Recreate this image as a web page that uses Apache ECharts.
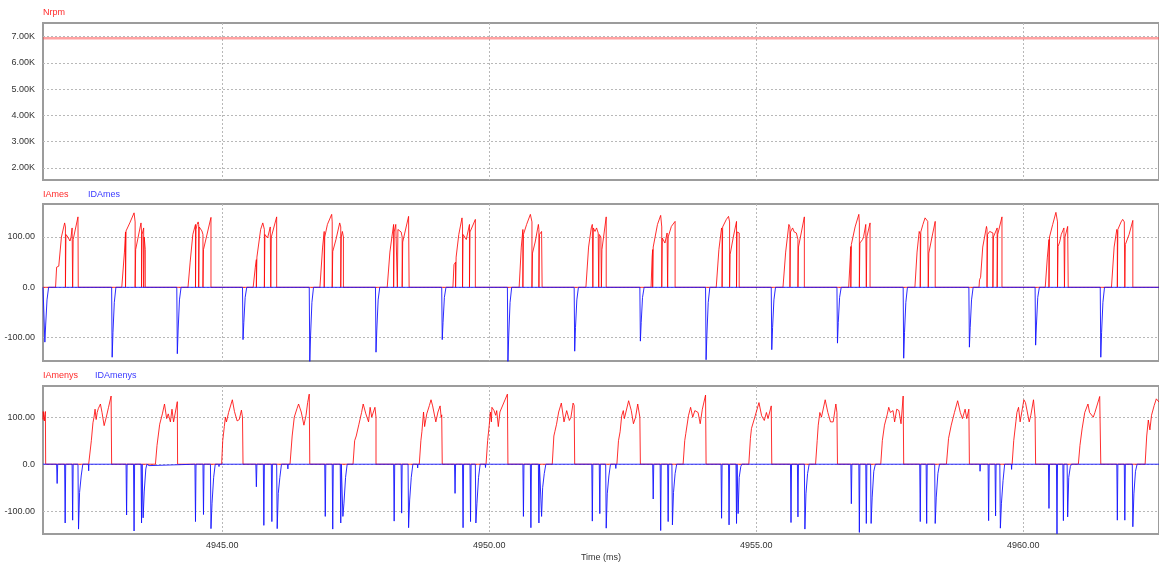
<!DOCTYPE html>
<html>
<head>
<meta charset="utf-8">
<script src="https://cdn.jsdelivr.net/npm/echarts@6/dist/echarts.min.js"></script>
<style>
  html, body { margin: 0; padding: 0; background: #fff; }
  #chart { width: 1159px; height: 563px; }
</style>
</head>
<body>
<div id="chart"></div>
<script>
// Time window (ms) and tick positions
const timeRange = [4941.645, 4962.54];
const timeTicks = [4945, 4950, 4955, 4960];
const rpmTicks = [2000, 3000, 4000, 5000, 6000, 7000];
const currentTicks = [-100, 0, 100];

// Speed trace [time ms, rpm]
const nrpmData = [[4941.645, 6935], [4952.0, 6935], [4962.54, 6935]];

// Measured phase A current [time ms, A]
const iamesData = [
  [4941.645,0],
  [4941.88,0],[4941.90,40],[4941.94,42],[4941.99,100],[4942.05,128],[4942.065,120],[4942.065,0],[4942.075,105],[4942.11,100],[4942.15,92],[4942.17,100],[4942.19,118],[4942.20,120],[4942.20,0],[4942.21,95],[4942.30,140],[4942.305,0],
  [4943.12,0],[4943.17,70],[4943.19,110],[4943.19,0],[4943.20,112],[4943.27,128],[4943.35,148],[4943.37,130],[4943.37,0],[4943.38,75],[4943.48,128],[4943.49,110],[4943.49,0],[4943.50,105],[4943.53,118],[4943.53,0],[4943.54,100],[4943.56,75],[4943.56,0],
  [4944.36,0],[4944.40,50],[4944.45,105],[4944.50,125],[4944.50,0],[4944.51,115],[4944.53,125],[4944.55,130],[4944.56,125],[4944.56,0],[4944.57,120],[4944.62,112],[4944.64,105],[4944.64,0],[4944.65,75],[4944.79,139],[4944.79,0],
  [4945.58,0],[4945.62,40],[4945.64,55],[4945.64,0],[4945.65,60],[4945.72,115],[4945.76,128],[4945.79,115],[4945.79,0],[4945.80,105],[4945.85,98],[4945.90,120],[4945.91,0],[4945.92,100],[4946.02,140],[4946.02,0],
  [4946.83,0],[4946.88,80],[4946.91,111],[4946.91,0],[4946.92,100],[4946.97,125],[4947.05,145],[4947.06,130],[4947.06,0],[4947.07,71],[4947.13,95],[4947.20,128],[4947.22,120],[4947.22,0],[4947.23,100],[4947.25,111],[4947.27,100],[4947.27,0],
  [4948.09,0],[4948.14,70],[4948.19,110],[4948.21,125],[4948.21,0],[4948.22,110],[4948.25,125],[4948.28,122],[4948.28,0],[4948.29,115],[4948.35,110],[4948.37,100],[4948.37,0],[4948.38,90],[4948.49,141],[4948.50,0],
  [4949.32,0],[4949.34,45],[4949.37,50],[4949.37,0],[4949.38,60],[4949.43,105],[4949.49,138],[4949.50,120],[4949.50,0],[4949.51,105],[4949.57,95],[4949.60,110],[4949.63,125],[4949.63,0],[4949.64,110],[4949.74,135],[4949.74,0],
  [4950.56,0],[4950.60,80],[4950.63,115],[4950.63,0],[4950.64,105],[4950.70,125],[4950.77,145],[4950.80,130],[4950.80,0],[4950.81,68],[4950.86,90],[4950.92,125],[4950.93,115],[4950.93,0],[4950.94,105],[4950.98,111],[4950.99,0],
  [4951.81,0],[4951.86,80],[4951.91,118],[4951.93,125],[4951.94,0],[4951.95,118],[4951.98,111],[4952.01,118],[4952.04,108],[4952.05,0],[4952.06,105],[4952.09,100],[4952.10,0],[4952.11,75],[4952.19,140],[4952.19,0],
  [4953.03,0],[4953.05,60],[4953.06,75],[4953.06,0],[4953.07,80],[4953.15,125],[4953.21,143],[4953.23,120],[4953.23,0],[4953.24,98],[4953.29,88],[4953.33,108],[4953.34,0],[4953.35,100],[4953.41,121],[4953.48,131],[4953.48,0],
  [4954.25,0],[4954.30,75],[4954.35,118],[4954.36,110],[4954.36,0],[4954.37,120],[4954.44,135],[4954.48,141],[4954.50,130],[4954.50,0],[4954.51,65],[4954.57,100],[4954.63,131],[4954.63,0],[4954.64,110],[4954.68,108],[4954.68,0],
  [4955.50,0],[4955.55,70],[4955.61,125],[4955.63,120],[4955.63,0],[4955.64,110],[4955.68,118],[4955.71,110],[4955.75,108],[4955.78,95],[4955.78,0],[4955.79,80],[4955.90,140],[4955.90,0],
  [4956.73,0],[4956.76,60],[4956.77,81],[4956.77,0],[4956.78,85],[4956.85,120],[4956.92,145],[4956.93,128],[4956.93,0],[4956.94,88],[4956.99,95],[4957.01,101],[4957.05,125],[4957.06,128],[4957.06,0],[4957.07,100],[4957.13,128],[4957.13,0],
  [4957.97,0],[4958.01,70],[4958.05,111],[4958.07,105],[4958.07,0],[4958.08,110],[4958.12,125],[4958.16,138],[4958.21,131],[4958.22,0],[4958.23,68],[4958.29,100],[4958.35,131],[4958.35,0],
  [4959.17,0],[4959.18,15],[4959.20,20],[4959.24,80],[4959.31,121],[4959.32,115],[4959.32,0],[4959.33,105],[4959.37,111],[4959.43,108],[4959.43,0],[4959.44,100],[4959.47,101],[4959.51,118],[4959.51,0],[4959.52,105],[4959.60,140],[4959.60,0],
  [4960.41,0],[4960.45,60],[4960.48,95],[4960.48,0],[4960.49,100],[4960.55,125],[4960.61,149],[4960.64,130],[4960.64,0],[4960.65,81],[4960.68,90],[4960.71,105],[4960.76,118],[4960.77,0],[4960.78,100],[4960.83,121],[4960.84,0],
  [4961.65,0],[4961.70,80],[4961.75,115],[4961.76,110],[4961.76,0],[4961.77,115],[4961.83,130],[4961.86,135],[4961.89,130],[4961.90,0],[4961.91,85],[4961.98,105],[4962.05,133],[4962.05,0],
  [4962.54,0]
];

// Measured phase A, D-branch current [time ms, A]
const idamesData = [
  [4941.645,0],
  [4941.67,0],[4941.68,-109],[4941.695,-75],[4941.72,-25],[4941.75,0],
  [4942.93,0],[4942.94,-139],[4942.955,-90],[4942.98,-30],[4943.01,0],
  [4944.15,0],[4944.16,-132],[4944.175,-85],[4944.20,-25],[4944.23,0],
  [4945.38,0],[4945.39,-104],[4945.405,-70],[4945.43,-20],[4945.46,0],
  [4946.63,0],[4946.64,-148],[4946.655,-95],[4946.68,-30],[4946.71,0],
  [4947.87,0],[4947.88,-129],[4947.895,-85],[4947.92,-25],[4947.95,0],
  [4949.11,0],[4949.12,-104],[4949.135,-70],[4949.16,-20],[4949.19,0],
  [4950.34,0],[4950.35,-148],[4950.365,-95],[4950.39,-30],[4950.42,0],
  [4951.59,0],[4951.60,-127],[4951.615,-80],[4951.64,-25],[4951.67,0],
  [4952.82,0],[4952.83,-107],[4952.845,-70],[4952.87,-20],[4952.90,0],
  [4954.05,0],[4954.06,-144],[4954.075,-95],[4954.10,-30],[4954.13,0],
  [4955.28,0],[4955.29,-124],[4955.305,-80],[4955.33,-25],[4955.36,0],
  [4956.51,0],[4956.52,-111],[4956.535,-70],[4956.56,-20],[4956.59,0],
  [4957.75,0],[4957.76,-141],[4957.775,-90],[4957.80,-30],[4957.83,0],
  [4958.98,0],[4958.99,-119],[4959.005,-80],[4959.03,-25],[4959.06,0],
  [4960.22,0],[4960.23,-115],[4960.245,-75],[4960.27,-20],[4960.30,0],
  [4961.44,0],[4961.45,-139],[4961.465,-90],[4961.49,-30],[4961.52,0],
  [4962.54,0]
];

// Simulated phase A current [time ms, A]
const iamenysData = [
  [4941.645,95],[4941.65,112],[4941.66,100],[4941.67,92],[4941.68,106],[4941.69,112],[4941.695,0],
  [4942.50,0],[4942.55,50],[4942.58,88],[4942.60,100],[4942.62,117],[4942.64,95],[4942.66,110],[4942.68,118],[4942.72,128],[4942.75,110],[4942.79,82],[4942.83,100],[4942.87,120],[4942.92,145],[4942.93,0],
  [4943.75,0],[4943.78,40],[4943.83,85],[4943.88,107],[4943.92,128],[4943.96,97],[4943.99,107],[4944.03,90],[4944.06,117],[4944.09,90],[4944.16,133],[4944.165,0],
  [4944.99,0],[4945.01,50],[4945.04,80],[4945.06,100],[4945.08,90],[4945.12,110],[4945.19,137],[4945.23,112],[4945.28,92],[4945.32,95],[4945.36,115],[4945.38,100],[4945.39,0],
  [4946.27,0],[4946.31,60],[4946.35,100],[4946.38,111],[4946.40,118],[4946.43,128],[4946.48,111],[4946.53,83],[4946.57,104],[4946.60,131],[4946.63,149],[4946.64,0],
  [4947.45,0],[4947.48,50],[4947.51,60],[4947.56,85],[4947.61,110],[4947.64,128],[4947.69,107],[4947.74,90],[4947.77,121],[4947.80,100],[4947.86,121],[4947.88,100],[4947.88,0],
  [4948.69,0],[4948.72,50],[4948.74,70],[4948.77,111],[4948.79,80],[4948.83,107],[4948.88,125],[4948.91,137],[4948.94,124],[4949.00,90],[4949.04,111],[4949.08,124],[4949.10,100],[4949.11,105],[4949.12,0],
  [4949.94,0],[4949.97,50],[4950.00,83],[4950.02,111],[4950.04,90],[4950.05,121],[4950.09,114],[4950.12,104],[4950.14,114],[4950.17,80],[4950.20,111],[4950.34,149],[4950.35,0],
  [4951.18,0],[4951.21,60],[4951.23,70],[4951.26,85],[4951.30,111],[4951.35,130],[4951.40,90],[4951.45,114],[4951.50,93],[4951.53,100],[4951.57,130],[4951.59,125],[4951.60,0],
  [4952.39,0],[4952.42,50],[4952.45,69],[4952.48,103],[4952.51,114],[4952.53,97],[4952.61,135],[4952.66,114],[4952.70,86],[4952.74,100],[4952.78,128],[4952.82,100],[4952.83,0],
  [4953.63,0],[4953.66,50],[4953.68,65],[4953.73,103],[4953.77,121],[4953.81,100],[4953.85,114],[4953.91,110],[4953.95,86],[4953.99,117],[4954.05,147],[4954.06,0],
  [4954.86,0],[4954.89,55],[4954.91,76],[4954.94,78],[4954.98,103],[4955.05,131],[4955.10,103],[4955.15,93],[4955.19,110],[4955.22,97],[4955.28,124],[4955.29,0],
  [4956.11,0],[4956.14,50],[4956.16,83],[4956.19,110],[4956.22,100],[4956.29,137],[4956.34,110],[4956.39,90],[4956.44,90],[4956.49,128],[4956.51,110],[4956.52,0],
  [4957.33,0],[4957.36,50],[4957.40,83],[4957.45,105],[4957.48,121],[4957.51,110],[4957.56,114],[4957.59,90],[4957.63,117],[4957.67,114],[4957.71,86],[4957.75,145],[4957.76,0],
  [4958.56,0],[4958.60,55],[4958.65,83],[4958.71,110],[4958.77,135],[4958.82,110],[4958.86,97],[4958.91,117],[4958.94,97],[4958.98,117],[4958.99,0],
  [4959.79,0],[4959.82,50],[4959.86,90],[4959.88,110],[4959.91,121],[4959.94,90],[4960.01,137],[4960.04,131],[4960.11,90],[4960.14,104],[4960.19,137],[4960.22,100],[4960.23,0],
  [4961.03,0],[4961.06,40],[4961.10,75],[4961.15,110],[4961.21,128],[4961.24,110],[4961.27,114],[4961.31,100],[4961.34,110],[4961.43,144],[4961.45,0],
  [4962.28,0],[4962.31,60],[4962.34,94],[4962.37,73],[4962.40,104],[4962.45,125],[4962.49,139],[4962.54,132]
];

// Simulated phase A, D-branch current [time ms, A]
const idamenysData = [
  [4941.645,0],
  [4941.775,0],[4941.78,-3],[4941.785,0],
  [4941.90,0],[4941.91,-41],[4941.92,0],
  [4942.05,0],[4942.06,-125],[4942.07,0],
  [4942.19,0],[4942.20,-119],[4942.21,0],
  [4942.30,0],[4942.31,-138],[4942.33,-60],[4942.36,-25],[4942.39,0],
  [4942.495,0],[4942.50,-14],[4942.505,0],
  [4943.20,0],[4943.21,-108],[4943.22,0],
  [4943.34,0],[4943.35,-142],[4943.36,0],
  [4943.48,0],[4943.49,-125],[4943.50,0],
  [4943.51,0],[4943.52,-114],[4943.54,-59],[4943.57,-10],[4943.59,0],
  [4943.625,0],[4943.63,-3],[4943.635,0],
  [4944.49,0],[4944.50,-122],[4944.51,0],
  [4944.64,0],[4944.65,-107],[4944.66,0],
  [4944.78,0],[4944.79,-137],[4944.81,-83],[4944.84,-28],[4944.87,0],
  [4944.935,0],[4944.94,-5],[4944.945,0],
  [4945.63,0],[4945.64,-48],[4945.65,0],
  [4945.77,0],[4945.78,-130],[4945.79,0],
  [4945.92,0],[4945.93,-122],[4945.94,0],
  [4946.02,0],[4946.03,-137],[4946.05,-62],[4946.08,-28],[4946.11,0],
  [4946.225,0],[4946.23,-10],[4946.235,0],
  [4946.92,0],[4946.93,-111],[4946.94,0],
  [4947.06,0],[4947.07,-138],[4947.08,0],
  [4947.21,0],[4947.22,-125],[4947.23,0],
  [4947.25,0],[4947.26,-111],[4947.28,-83],[4947.31,-28],[4947.34,0],
  [4948.21,0],[4948.22,-121],[4948.23,0],
  [4948.35,0],[4948.36,-104],[4948.37,0],
  [4948.48,0],[4948.49,-135],[4948.51,-76],[4948.54,-28],[4948.57,0],
  [4948.655,0],[4948.66,-8],[4948.665,0],
  [4949.35,0],[4949.36,-62],[4949.37,0],
  [4949.50,0],[4949.51,-135],[4949.52,0],
  [4949.64,0],[4949.65,-122],[4949.66,0],
  [4949.74,0],[4949.75,-125],[4949.77,-83],[4949.80,-28],[4949.83,0],
  [4949.925,0],[4949.93,-7],[4949.935,0],
  [4950.63,0],[4950.64,-111],[4950.65,0],
  [4950.77,0],[4950.78,-135],[4950.79,0],
  [4950.92,0],[4950.93,-125],[4950.94,0],
  [4950.97,0],[4950.98,-111],[4951.00,-50],[4951.03,-20],[4951.06,0],
  [4951.92,0],[4951.93,-121],[4951.94,0],
  [4952.06,0],[4952.07,-105],[4952.08,0],
  [4952.18,0],[4952.19,-136],[4952.21,-63],[4952.24,-25],[4952.27,0],
  [4952.365,0],[4952.37,-9],[4952.375,0],
  [4953.06,0],[4953.07,-74],[4953.08,0],
  [4953.20,0],[4953.21,-141],[4953.22,0],
  [4953.34,0],[4953.35,-122],[4953.36,0],
  [4953.42,0],[4953.43,-129],[4953.45,-60],[4953.48,-20],[4953.51,0],
  [4954.34,0],[4954.35,-115],[4954.36,0],
  [4954.48,0],[4954.49,-129],[4954.50,0],
  [4954.62,0],[4954.63,-126],[4954.64,0],
  [4954.65,0],[4954.66,-105],[4954.68,-28],[4954.71,-5],[4954.73,0],
  [4954.795,0],[4954.80,-4],[4954.805,0],
  [4955.64,0],[4955.65,-124],[4955.66,0],
  [4955.77,0],[4955.78,-112],[4955.79,0],
  [4955.90,0],[4955.91,-138],[4955.93,-63],[4955.96,-20],[4955.99,0],
  [4956.77,0],[4956.78,-84],[4956.79,0],
  [4956.92,0],[4956.93,-145],[4956.94,0],
  [4957.05,0],[4957.06,-126],[4957.07,0],
  [4957.14,0],[4957.15,-126],[4957.17,-70],[4957.20,-15],[4957.23,0],
  [4958.06,0],[4958.07,-122],[4958.08,0],
  [4958.18,0],[4958.19,-126],[4958.20,0],
  [4958.34,0],[4958.35,-126],[4958.37,-70],[4958.40,-20],[4958.43,0],
  [4958.495,0],[4958.50,-3],[4958.505,0],
  [4959.185,0],[4959.19,-15],[4959.195,0],
  [4959.34,0],[4959.35,-120],[4959.36,0],
  [4959.47,0],[4959.48,-110],[4959.49,0],
  [4959.56,0],[4959.57,-136],[4959.59,-83],[4959.62,-35],[4959.65,0],
  [4959.775,0],[4959.78,-11],[4959.785,0],
  [4960.47,0],[4960.48,-94],[4960.49,0],
  [4960.62,0],[4960.63,-148],[4960.64,0],
  [4960.74,0],[4960.75,-120],[4960.76,0],
  [4960.82,0],[4960.83,-112],[4960.85,-28],[4960.88,-5],[4960.90,0],
  [4961.75,0],[4961.76,-119],[4961.77,0],
  [4961.89,0],[4961.90,-119],[4961.91,0],
  [4962.04,0],[4962.05,-133],[4962.07,-63],[4962.10,-15],[4962.13,0],
  [4962.205,0],[4962.21,-2],[4962.215,0],
  [4962.54,0]
];

const FONT = '"Liberation Sans", Arial, sans-serif';
const RED = 'rgba(255,0,0,0.82)';
const BLUE = 'rgba(20,20,255,0.9)';
const GRID_LINE = { color: '#b8b8b8', type: [2, 2], width: 1 };

const chart = echarts.init(document.getElementById('chart'), null, { renderer: 'canvas' });

function xAxisFor(gridIndex, withLabels) {
  return {
    type: 'value', gridIndex: gridIndex,
    min: timeRange[0], max: timeRange[1],
    axisLine: { show: false }, axisTick: { show: false, customValues: timeTicks },
    splitLine: { show: true, lineStyle: GRID_LINE },
    axisLabel: {
      show: withLabels, customValues: timeTicks, margin: 7,
      color: '#333', fontSize: 9, fontFamily: FONT,
      formatter: v => v.toFixed(2)
    },
    name: withLabels ? 'Time (ms)' : '',
    nameLocation: 'middle', nameGap: 19,
    nameTextStyle: { color: '#333', fontSize: 9, fontFamily: FONT }
  };
}

function yAxisFor(gridIndex, min, max, ticks, fmt) {
  return {
    type: 'value', gridIndex: gridIndex, min: min, max: max,
    axisLine: { show: false }, axisTick: { show: false, customValues: ticks },
    splitLine: { show: true, lineStyle: GRID_LINE },
    axisLabel: { customValues: ticks, margin: 8, color: '#333', fontSize: 9, fontFamily: FONT, formatter: fmt }
  };
}

const currentFmt = v => (v === 0 ? '0.0' : v.toFixed(2));

function legendText(x, y, text, color) {
  return { type: 'text', left: x, top: y, style: { text: text, fill: color, font: '9px ' + FONT } };
}

// Panels run past the right edge of the canvas, so their right border is not drawn in view
const panelBox = { show: true, borderColor: '#9c9c9c', borderWidth: 2, backgroundColor: '#fff' };

chart.setOption({
  animation: false,
  backgroundColor: '#ffffff',
  grid: [
    Object.assign({ left: 43, width: 1118, top: 23, height: 157 }, panelBox),
    Object.assign({ left: 43, width: 1118, top: 204, height: 157 }, panelBox),
    Object.assign({ left: 43, width: 1118, top: 386, height: 152 }, panelBox)
  ],
  xAxis: [xAxisFor(0, false), xAxisFor(1, false), xAxisFor(2, true)],
  yAxis: [
    yAxisFor(0, 1540, 7520, rpmTicks, v => (v / 1000).toFixed(2) + 'K'),
    yAxisFor(1, -146.5, 165.6, currentTicks, currentFmt),
    yAxisFor(2, -148.4, 166.3, currentTicks, currentFmt)
  ],
  graphic: [
    legendText(43, 8, 'Nrpm', '#ff2a2a'),
    legendText(43, 190, 'IAmes', '#ff2a2a'),
    legendText(88, 190, 'IDAmes', '#3a3aff'),
    legendText(43, 371, 'IAmenys', '#ff2a2a'),
    legendText(95, 371, 'IDAmenys', '#3a3aff')
  ],
  series: [
    { name: 'Nrpm', type: 'line', xAxisIndex: 0, yAxisIndex: 0, data: nrpmData, showSymbol: false,
      lineStyle: { color: 'rgba(255,70,70,0.5)', width: 2.5 } },
    { name: 'IAmes', type: 'line', xAxisIndex: 1, yAxisIndex: 1, data: iamesData, showSymbol: false,
      lineStyle: { color: RED, width: 1 } },
    { name: 'IDAmes', type: 'line', xAxisIndex: 1, yAxisIndex: 1, data: idamesData, showSymbol: false,
      lineStyle: { color: BLUE, width: 1 } },
    { name: 'IAmenys', type: 'line', xAxisIndex: 2, yAxisIndex: 2, data: iamenysData, showSymbol: false,
      lineStyle: { color: RED, width: 1 } },
    { name: 'IDAmenys', type: 'line', xAxisIndex: 2, yAxisIndex: 2, data: idamenysData, showSymbol: false,
      lineStyle: { color: BLUE, width: 1 } }
  ]
});
</script>
</body>
</html>
